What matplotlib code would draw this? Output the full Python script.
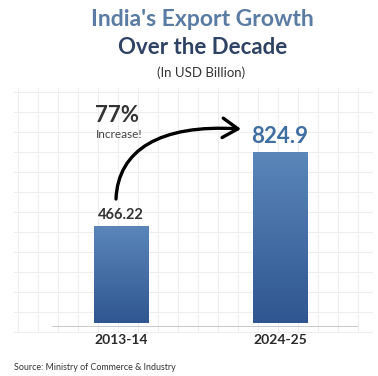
import numpy as np
import matplotlib.pyplot as plt
from matplotlib.patches import FancyArrowPatch
from matplotlib.path import Path
from matplotlib.colors import LinearSegmentedColormap

years = ["2013-14", "2024-25"]
exports = [466.22, 824.9]
value_labels = ["466.22", "824.9"]

W, H = 378, 376
fig = plt.figure(figsize=(W / 100, H / 100), dpi=100)
fig.patch.set_facecolor("white")

def fx(px):
    return px / W

def fy(py):
    return 1 - py / H

# faint background grid, pixel coords (y downwards)
bg = fig.add_axes([0, 0, 1, 1])
bg.set_xlim(0, W)
bg.set_ylim(H, 0)
for gx in np.arange(18, 372, 20):
    bg.plot([gx, gx], [88, 332], color="#eeeeee", lw=0.8, zorder=0)
for gy in np.arange(92, 334, 20):
    bg.plot([14, 372], [gy, gy], color="#eeeeee", lw=0.8, zorder=0)
bg.axis("off")

# main bar axes
left, right, base, top = 52, 358, 327, 90
ax = fig.add_axes([fx(left), fy(base), fx(right - left), (base - top) / H])
ax.patch.set_alpha(0)
scale = (323 - 152) / exports[1]
ax.set_ylim(-4 / scale, (base - top) / scale - 4 / scale)
ax.set_xlim(-0.434, 1.49)
x = np.arange(len(years))
bw = 0.34
bars = ax.bar(x, exports, width=bw, color="none", zorder=2)
grad = np.linspace(0, 1, 256).reshape(-1, 1)
cmap = LinearSegmentedColormap.from_list("b", ["#2f5690", "#5a86ba"])
for b in bars:
    x0, y0 = b.get_x(), b.get_y()
    im = ax.imshow(grad, extent=[x0, x0 + b.get_width(), y0, y0 + b.get_height()],
                   origin="lower", aspect="auto", cmap=cmap, zorder=2)
    im.set_clip_path(b)
ax.axhline(-4 / scale, color="#bfbfbf", lw=1.2, zorder=3)
for s in ax.spines.values():
    s.set_visible(False)
ax.set_xticks([])
ax.set_yticks([])

ax.text(x[0], exports[0] + 22, value_labels[0], ha="center", va="bottom",
        fontsize=10.5, fontweight="bold", color="#333333", family="Lato")
ax.text(x[1], exports[1] + 22, value_labels[1], ha="center", va="bottom",
        fontsize=16, fontweight="bold", color="#3f6ea3", family="Lato")

for xi, lab in zip(x, years):
    fig.text(fx(left) + fx(159) * (xi + 0.434), fy(340), lab, ha="center", va="center",
             fontsize=10, fontweight="bold", color="#2a2a2a", family="Lato")

# titles
fig.text(fx(202), fy(19), "India's Export Growth", ha="center", va="center",
         fontsize=16.5, fontweight="bold", color="#5a7ca3", family="Lato")
fig.text(fx(203), fy(47), "Over the Decade", ha="center", va="center",
         fontsize=16, fontweight="bold", color="#2e4263", family="Lato")
fig.text(fx(201), fy(73), "(In USD Billion)", ha="center", va="center",
         fontsize=9.5, color="#333333", family="Lato")

fig.text(fx(95), fy(116), "77%", ha="left", va="center",
         fontsize=16, fontweight="bold", color="#333333", family="Lato")
fig.text(fx(96), fy(134), "Increase!", ha="left", va="center",
         fontsize=8.5, color="#444444", family="Lato")

# curved arrow as a cubic bezier in figure pixels
pts = [(116, 199), (118, 150), (160, 124), (241, 129)]
verts = [(fx(px), fy(py)) for px, py in pts]
curve = Path(verts, [Path.MOVETO, Path.CURVE4, Path.CURVE4, Path.CURVE4])
arrow = FancyArrowPatch(path=curve, transform=fig.transFigure,
                        arrowstyle="->,head_length=11,head_width=7",
                        lw=2.4, color="black", capstyle="round", joinstyle="round")
fig.patches.append(arrow)

fig.text(fx(14), fy(367), "Source: Ministry of Commerce & Industry", ha="left", va="center",
         fontsize=6.4, color="#333333", family="Lato")

fig.savefig("out.png", dpi=100)
